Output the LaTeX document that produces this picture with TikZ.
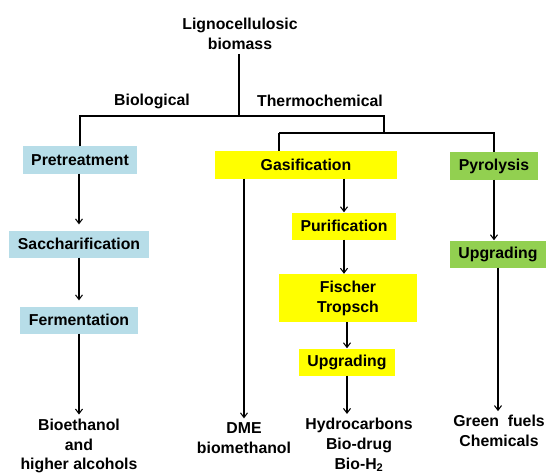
\documentclass[tikz,border=0pt]{standalone}
\usepackage{fontspec}
\setmainfont{Liberation Sans}
\usetikzlibrary{positioning, arrows.meta}

\definecolor{bioblue}{HTML}{B7DDE8}
\definecolor{gasyellow}{HTML}{FFFF00}
\definecolor{pyrgreen}{HTML}{92D050}

\begin{document}
\begin{tikzpicture}[x=0.03cm, y=-0.03cm, >={Straight Barb[length=4pt,width=6pt]},
  every node/.style={font=\fontsize{13.5}{17}\selectfont\bfseries, align=center},
  stage/.style={minimum height=0.81cm, inner xsep=0.26cm, inner ysep=0pt},
  biobox/.style={stage, fill=bioblue},
  gasbox/.style={stage, fill=gasyellow},
  pyrbox/.style={stage, fill=pyrgreen},
  flow/.style={->, line width=0.9pt},
  tree/.style={line width=0.9pt}]

  \useasboundingbox (0,0) rectangle (547,475);

  % Source and routes
  \node (title) at (240,34) {Lignocellulosic\\biomass};
  \node (biolabel) at (152,101) {Biological};
  \node (thermolabel) at (320,101) {Thermochemical};

  % Biological blocks
  \node[biobox] (pre) at (80,160) {Pretreatment};
  \node[biobox] (sac) at (79,244) {Saccharification};
  \node[biobox] (fer) at (79,320) {Fermentation};

  % Gasification blocks
  \node[gasbox, minimum width=5.43cm] (gas) at (306,165) {Gasification};
  \node[gasbox] (pur) at (344,226) {Purification};
  \node[gasbox, minimum width=4.11cm, minimum height=1.44cm] (ft) at (348,298) {Fischer\\Tropsch};
  \node[gasbox] (upy) at (347,362) {Upgrading};

  % Pyrolysis blocks
  \node[pyrbox] (pyr) at (494,166) {Pyrolysis};
  \node[pyrbox] (upg) at (498,254) {Upgrading};

  % Products
  \node (bioeth) at (79,446) {Bioethanol\\and\\higher alcohols};
  \node (dme) at (244,438) {DME\\biomethanol};
  \node (hydro) at (359,445) {Hydrocarbons\\Bio-drug\\Bio-H\textsubscript{2}};
  \node (green) at (499,431) {Green~~fuels\\Chemicals};

  % Tree lines
  \coordinate (split) at (239,116);
  \coordinate (tsplit) at (384,133);
  \coordinate (gtop) at (279,133);
  \draw[tree] (title.south -| split) -- (split);
  \draw[tree] (pre.north) -- (pre.north |- split) -- (split -| tsplit) -- (tsplit);
  \draw[tree] (gtop) -- (gtop |- gas.north);
  \draw[tree] (gtop) -- (gtop -| pyr.north) -- (pyr.north);

  % Arrows
  \draw[flow, shorten >=5pt] (sac.north |- pre.south) -- (sac.north);
  \draw[flow, shorten >=5pt] (sac.south) -- (fer.north);
  \draw[flow] (fer.south) -- (bioeth.north);
  \draw[flow] (dme.north |- gas.south) -- (dme.north);
  \draw[flow] (pur.north |- gas.south) -- (pur.north);
  \draw[flow] (pur.south) -- (pur.south |- ft.north);
  \draw[flow] (upy.north |- ft.south) -- (upy.north);
  \draw[flow] (upy.south) -- (upy.south |- hydro.north);
  \draw[flow] (pyr.south) -- (pyr.south |- upg.north);
  \draw[flow] (upg.south) -- (upg.south |- green.north);

\end{tikzpicture}
\end{document}
